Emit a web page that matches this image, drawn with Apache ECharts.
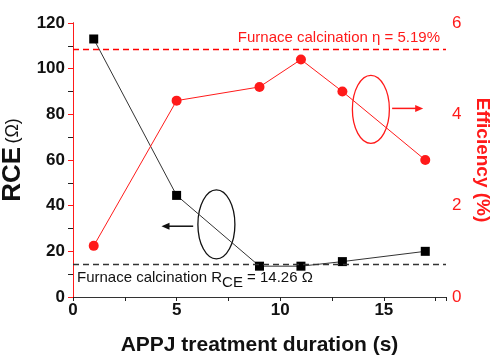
<!DOCTYPE html>
<html><head><meta charset="utf-8">
<script src="https://cdn.jsdelivr.net/npm/echarts@6/dist/echarts.min.js"></script>
<style>html,body{margin:0;padding:0;background:#fff}#c{width:495px;height:357px}</style>
</head><body><div id="c"></div>
<script>
const durations = [1, 5, 9, 11, 13, 17];
const rceValues = [113, 44.5, 13.5, 13.5, 15.5, 20];
const effValues = [1.12, 4.3, 4.6, 5.2, 4.5, 3.0];
const furnaceRce = 14.26;
const furnaceEffLineLevel = 5.42;
const xRange = [0, 18];

const FONT = 'Liberation Sans, Arial, sans-serif';
const RED = '#ff1a1a';
const chart = echarts.init(document.getElementById('c'));
chart.setOption({
  animation: false,
  textStyle: {fontFamily: FONT},
  grid: {left: 73, right: 49, top: 23, bottom: 60, containLabel: false, outerBoundsMode: 'none'},
  xAxis: [{
    type: 'value', min: xRange[0], max: xRange[1], interval: 2.5,
    axisLine: {lineStyle: {color: '#222', width: 1}},
    axisTick: {show: true, length: 4, lineStyle: {color: '#222'}},
    splitLine: {show: false},
    axisLabel: {color: '#111', fontWeight: 'bold', fontSize: 17, fontFamily: FONT, margin: 5,
      formatter: v => (v % 5 === 0 ? String(v) : '')},
    name: 'APPJ treatment duration (s)', nameLocation: 'middle', nameGap: 38,
    nameTextStyle: {fontSize: 21, fontWeight: 'bold', color: '#111', fontFamily: FONT}
  }, {
    type: 'value', min: xRange[0], max: xRange[1], position: 'top',
    axisLine: {show: true, lineStyle: {color: '#333'}},
    axisTick: {show: false}, axisLabel: {show: false}, splitLine: {show: false}
  }],
  yAxis: [{
    type: 'value', min: 0, max: 120, interval: 10,
    axisLine: {show: true, lineStyle: {color: '#222'}},
    axisTick: {show: true, length: 5, lineStyle: {color: '#222'}},
    splitLine: {show: false},
    axisLabel: {color: '#111', fontWeight: 'bold', fontSize: 17, fontFamily: FONT, margin: 8,
      formatter: v => (v % 20 === 0 ? String(v) : '')},
    name: '{r|RCE} {o|(Ω)}', nameLocation: 'middle', nameGap: 42,
    nameTextStyle: {rich: {
      r: {fontSize: 26, fontWeight: 'bold', color: '#111', fontFamily: FONT},
      o: {fontSize: 18, color: '#111', fontFamily: FONT}
    }}
  }, {
    type: 'value', min: 0, max: 6, interval: 1, position: 'right',
    axisLine: {show: true, lineStyle: {color: RED}},
    axisTick: {show: true, inside: true, length: 5, lineStyle: {color: RED}},
    splitLine: {show: false},
    axisLabel: {color: RED, fontSize: 17, fontFamily: FONT, margin: 6,
      formatter: v => (v % 2 === 0 ? String(v) : '')},
    name: 'Efficiency (%)', nameLocation: 'middle', nameGap: 26, nameRotate: -90,
    nameTextStyle: {fontSize: 19, fontWeight: 'bold', color: RED, fontFamily: FONT}
  }],
  series: [{
    type: 'line', data: durations.map((d, i) => [d, rceValues[i]]),
    symbol: 'rect', symbolSize: 9,
    itemStyle: {color: '#000'}, lineStyle: {color: '#333', width: 1}
  }, {
    type: 'line', yAxisIndex: 1, data: durations.map((d, i) => [d, effValues[i]]),
    symbol: 'circle', symbolSize: 10,
    itemStyle: {color: RED}, lineStyle: {color: RED, width: 1}
  }]
});

function px(x, y, yi) { return chart.convertToPixel({xAxisIndex: 0, yAxisIndex: yi}, [x, y]); }
const bc = px(6.92, 31.8, 0), ba1 = px(5.8, 31, 0), ba2 = px(4.27, 31, 0);
const rc = px(14.375, 82.2, 0), ra1 = px(15.4, 82.6, 0), ra2 = px(16.9, 82.6, 0);
const bl0 = px(xRange[0], furnaceRce, 0), bl1 = px(xRange[1], furnaceRce, 0);
const rl0 = px(xRange[0], furnaceEffLineLevel, 1), rl1 = px(xRange[1], furnaceEffLineLevel, 1);
const ry = Math.round(rl0[1]) + 0.5, by = Math.round(bl0[1]) + 0.5;
function arrow(p1, p2, color) {
  const dir = Math.sign(p2[0] - p1[0]);
  return [
    {type: 'line', shape: {x1: p1[0], y1: p1[1], x2: p2[0] - dir * 5, y2: p2[1]}, style: {stroke: color, lineWidth: 1.5}},
    {type: 'polygon', shape: {points: [[p2[0], p2[1]], [p2[0] - dir * 8, p2[1] - 3.5], [p2[0] - dir * 8, p2[1] + 3.5]]}, style: {fill: color}}
  ];
}
chart.setOption({graphic: [
  {type: 'line', z: 10, shape: {x1: bl0[0], y1: by, x2: bl1[0], y2: by}, style: {stroke: '#333', lineWidth: 1.5, lineDash: [6, 4]}},
  {type: 'line', z: 10, shape: {x1: rl0[0], y1: ry, x2: rl1[0], y2: ry}, style: {stroke: '#ff0000', lineWidth: 1.5, lineDash: [6, 4]}},
  {type: 'text', x: rl1[0] - 6, y: rl1[1] - 12, style: {
    text: 'Furnace calcination η = 5.19%', fill: RED, font: '15px ' + FONT,
    align: 'right', verticalAlign: 'middle'}},
  {type: 'text', x: bl0[0] + 4, y: bl0[1] + 6, style: {
    text: '{a|Furnace calcination R}{s|CE}{a| = 14.26 Ω}', align: 'left', verticalAlign: 'top',
    rich: {
      a: {fontSize: 15, fill: '#111', fontFamily: FONT, lineHeight: 18, verticalAlign: 'top'},
      s: {fontSize: 15, fill: '#111', fontFamily: FONT, lineHeight: 18, verticalAlign: 'top', padding: [5, 0, 0, 0]}
    }}},
  {type: 'ellipse', shape: {cx: bc[0], cy: bc[1], rx: 18.5, ry: 34.5}, style: {fill: 'none', stroke: '#111', lineWidth: 1.3}},
  {type: 'ellipse', shape: {cx: rc[0], cy: rc[1], rx: 18.5, ry: 34}, style: {fill: 'none', stroke: RED, lineWidth: 1.3}},
  ...arrow(ba1, ba2, '#111'),
  ...arrow(ra1, ra2, RED)
]});
</script></body></html>
